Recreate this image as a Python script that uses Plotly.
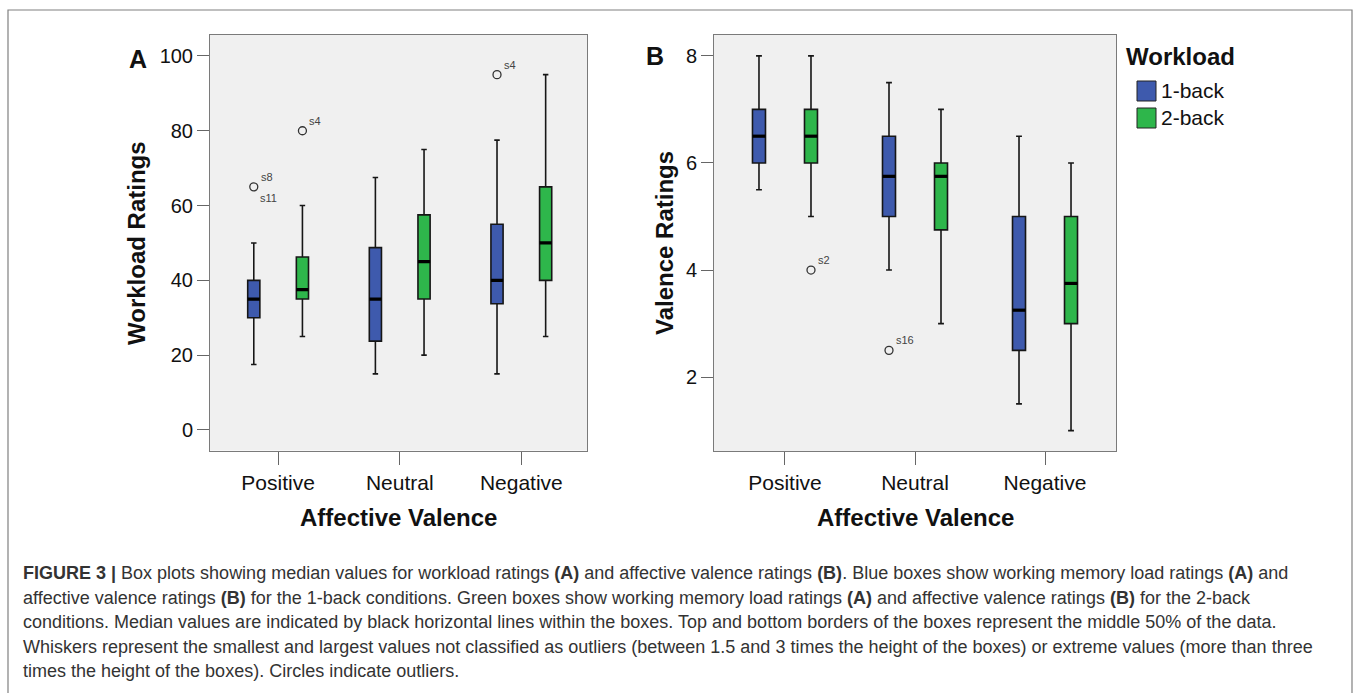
import plotly.graph_objects as go

W, H = 1354, 693

categories = ["Positive", "Neutral", "Negative"]
groups = ["1-back", "2-back"]
group_offsets = [-0.2, 0.2]
group_colors = ["#3e5aad", "#2eb64b"]

# Panel A: workload ratings (per category: Positive, Neutral, Negative)
wl_1back_lower = [17.5, 15, 15]
wl_1back_q1 = [30, 23.75, 33.75]
wl_1back_median = [35, 35, 40]
wl_1back_q3 = [40, 48.75, 55]
wl_1back_upper = [50, 67.5, 77.5]

wl_2back_lower = [25, 20, 25]
wl_2back_q1 = [35, 35, 40]
wl_2back_median = [37.5, 45, 50]
wl_2back_q3 = [46.25, 57.5, 65]
wl_2back_upper = [60, 75, 95]

wl_out_cat = ["Positive", "Positive", "Negative"]
wl_out_grp = ["1-back", "2-back", "1-back"]
wl_out_val = [65, 80, 95]
wl_out_lab_above = ["s8", "s4", "s4"]
wl_out_lab_below = ["s11", "", ""]

# Panel B: valence ratings
va_1back_lower = [5.5, 4.0, 1.5]
va_1back_q1 = [6.0, 5.0, 2.5]
va_1back_median = [6.5, 5.75, 3.25]
va_1back_q3 = [7.0, 6.5, 5.0]
va_1back_upper = [8.0, 7.5, 6.5]

va_2back_lower = [5.0, 3.0, 1.0]
va_2back_q1 = [6.0, 4.75, 3.0]
va_2back_median = [6.5, 5.75, 3.75]
va_2back_q3 = [7.0, 6.0, 5.0]
va_2back_upper = [8.0, 7.0, 6.0]

va_out_cat = ["Positive", "Neutral"]
va_out_grp = ["2-back", "1-back"]
va_out_val = [4.0, 2.5]
va_out_lab_above = ["s2", "s16"]
va_out_lab_below = ["", ""]

wl_ticks = [0, 20, 40, 60, 80, 100]
va_ticks = [2, 4, 6, 8]

FONT = "Liberation Sans, Arial, sans-serif"
BOX_W = 0.1

fig = go.Figure()


def pos(cat, grp):
    return categories.index(cat) + group_offsets[groups.index(grp)]


def add_panel(stats, outs, xa, ya):
    for gi, grp in enumerate(groups):
        lower, q1, med, q3, upper = stats[gi]
        xs = [pos(c, grp) for c in categories]
        fig.add_trace(go.Box(
            x=xs, q1=q1, median=med, q3=q3, lowerfence=lower, upperfence=upper,
            width=BOX_W, whiskerwidth=0.45, fillcolor=group_colors[gi],
            line=dict(color="#161616", width=1.6), boxpoints=False,
            name=grp, showlegend=False, xaxis=xa, yaxis=ya))
        mx, my = [], []
        for x, m in zip(xs, med):
            mx += [x - BOX_W / 2, x + BOX_W / 2, None]
            my += [m, m, None]
        fig.add_trace(go.Scatter(x=mx, y=my, mode="lines",
                                 line=dict(color="black", width=3.2),
                                 hoverinfo="skip", showlegend=False,
                                 xaxis=xa, yaxis=ya))
    cats, grps, vals, above, below = outs
    ox = [pos(c, g) for c, g in zip(cats, grps)]
    fig.add_trace(go.Scatter(x=ox, y=vals, mode="markers",
                             marker=dict(symbol="circle-open", size=8,
                                         color="#333333", line=dict(width=1.3)),
                             showlegend=False, xaxis=xa, yaxis=ya))
    for x, v, a, b in zip(ox, vals, above, below):
        if a:
            fig.add_annotation(x=x, y=v, xref=xa, yref=ya, text=a, showarrow=False,
                               xanchor="left", yanchor="middle", xshift=5, yshift=10,
                               font=dict(family=FONT, size=11, color="#444444"))
        if b:
            fig.add_annotation(x=x, y=v, xref=xa, yref=ya, text=b, showarrow=False,
                               xanchor="left", yanchor="middle", xshift=4, yshift=-11,
                               font=dict(family=FONT, size=11, color="#444444"))


add_panel([(wl_1back_lower, wl_1back_q1, wl_1back_median, wl_1back_q3, wl_1back_upper),
           (wl_2back_lower, wl_2back_q1, wl_2back_median, wl_2back_q3, wl_2back_upper)],
          (wl_out_cat, wl_out_grp, wl_out_val, wl_out_lab_above, wl_out_lab_below),
          "x", "y")
add_panel([(va_1back_lower, va_1back_q1, va_1back_median, va_1back_q3, va_1back_upper),
           (va_2back_lower, va_2back_q1, va_2back_median, va_2back_q3, va_2back_upper)],
          (va_out_cat, va_out_grp, va_out_val, va_out_lab_above, va_out_lab_below),
          "x2", "y2")


def px(x):
    return x / W


def py(y):
    return 1 - y / H


axis_common = dict(showline=True, mirror=True, linecolor="#7a7a7a", linewidth=1,
                   showgrid=False, zeroline=False, ticks="outside",
                   tickcolor="#666666", tickwidth=1)

fig.update_layout(
    width=W, height=H, margin=dict(l=0, r=0, t=0, b=0),
    paper_bgcolor="white", plot_bgcolor="#f0f0f0",
    showlegend=False,
    xaxis=dict(domain=[px(210), px(587)], range=[-0.56, 2.54], tickvals=[0, 1, 2],
               ticktext=categories, ticklen=13, anchor="y",
               tickfont=dict(family=FONT, size=21, color="#111111"), **axis_common),
    yaxis=dict(domain=[py(450.5), py(35)], range=[-5.5, 105.6], tickvals=wl_ticks,
               ticklen=12, anchor="x",
               tickfont=dict(family=FONT, size=20, color="#111111"), **axis_common),
    xaxis2=dict(domain=[px(714), px(1116)], range=[-0.546, 2.546], tickvals=[0, 1, 2],
                ticktext=categories, ticklen=13, anchor="y2",
                tickfont=dict(family=FONT, size=21, color="#111111"), **axis_common),
    yaxis2=dict(domain=[py(451), py(35)], range=[0.62, 8.39], tickvals=va_ticks,
                ticklen=12, anchor="x2",
                tickfont=dict(family=FONT, size=20, color="#111111"), **axis_common),
)

# Axis titles and panel letters
def ann(x, y, text, size, bold=False, angle=0, xanchor="center", color="#111111"):
    fig.add_annotation(x=px(x), y=py(y), xref="paper", yref="paper",
                       text=f"<b>{text}</b>" if bold else text, showarrow=False,
                       textangle=angle, xanchor=xanchor, yanchor="middle",
                       font=dict(family=FONT, size=size, color=color))


ann(398.5, 517, "Affective Valence", 24, bold=True)
ann(915, 517, "Affective Valence", 24, bold=True)
ann(136, 243, "Workload Ratings", 24, bold=True, angle=-90)
ann(664, 243, "Valence Ratings", 24, bold=True, angle=-90)
ann(138, 59, "A", 25, bold=True)
ann(655, 56, "B", 25, bold=True)

# Legend
ann(1124, 57, "Workload", 24, bold=True, xanchor="left")
for i, grp in enumerate(groups):
    y0 = 81 + i * 27
    fig.add_shape(type="rect", xref="paper", yref="paper",
                  x0=px(1137), x1=px(1156), y0=py(y0 + 20), y1=py(y0),
                  fillcolor=group_colors[i], line=dict(color="#222222", width=1))
    ann(1159, y0 + 10, grp, 21, xanchor="left")

# Outer frame
fig.add_shape(type="rect", xref="paper", yref="paper",
              x0=px(8), x1=px(1352), y0=py(705), y1=py(10),
              line=dict(color="#808080", width=1.2), fillcolor="rgba(0,0,0,0)", layer="below")

caption_lines = [
    "<b>FIGURE 3 |</b> Box plots showing median values for workload ratings <b>(A)</b> and affective valence ratings <b>(B)</b>. Blue boxes show working memory load ratings <b>(A)</b> and",
    "affective valence ratings <b>(B)</b> for the 1-back conditions. Green boxes show working memory load ratings <b>(A)</b> and affective valence ratings <b>(B)</b> for the 2-back",
    "conditions. Median values are indicated by black horizontal lines within the boxes. Top and bottom borders of the boxes represent the middle 50% of the data.",
    "Whiskers represent the smallest and largest values not classified as outliers (between 1.5 and 3 times the height of the boxes) or extreme values (more than three",
    "times the height of the boxes). Circles indicate outliers.",
]
for i, line in enumerate(caption_lines):
    ann(21, 573 + i * 24.5, line, 18, xanchor="left", color="#333333")

fig.write_html("out.html", config={"displayModeBar": False},
               post_script="document.body.style.margin='0';document.body.style.overflow='hidden';")
